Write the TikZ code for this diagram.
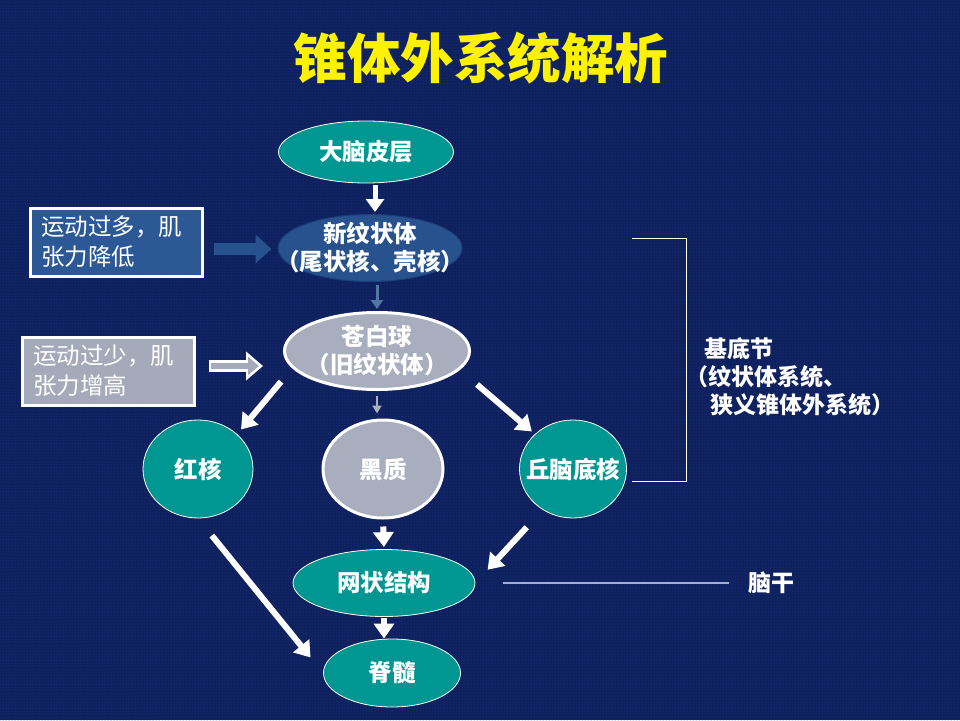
\documentclass[tikz,border=0pt]{standalone}
\usepackage{fontspec}
\setmainfont{Noto Sans CJK SC}
\definecolor{bgnavy}{RGB}{14, 32, 94}
\definecolor{bgdot}{RGB}{36, 62, 132}
\definecolor{nucteal}{RGB}{0, 150, 146}
\definecolor{palegray}{RGB}{168, 174, 190}
\definecolor{slateblue}{RGB}{40, 82, 142}
\definecolor{slateedge}{RGB}{30, 62, 120}
\definecolor{notegray}{RGB}{165, 170, 186}
\definecolor{noteblue}{RGB}{44, 88, 150}
\definecolor{stemgray}{RGB}{160, 175, 210}
\usetikzlibrary{shapes.geometric, arrows.meta, positioning, calc, patterns}

\begin{document}
\begin{tikzpicture}[x=1pt, y=-1pt,
  nuc/.style={ellipse, draw=white, line width=0.8pt, fill=nucteal, inner sep=0pt},
  graynuc/.style={ellipse, draw=white, line width=3pt, fill=palegray, inner sep=0pt},
  txt/.style={text=white, align=center, font=\fontsize{23.5}{28}\selectfont\bfseries},
  note/.style={draw=white, line width=3pt, text=white, align=left, text width=150pt, inner xsep=11pt, minimum height=68pt, font=\fontsize{23.5}{30}\selectfont},
  bigarrow/.style={white, line width=6pt, -{Triangle[width=20pt, length=15pt]}}
]
  \useasboundingbox (0,0) rectangle (960,720);
  \fill[bgnavy] (0,0) rectangle (960,720);
  \fill[pattern=dots, pattern color=bgdot] (0,0) rectangle (960,720);

  \node[text=yellow, font=\fontsize{53.5}{60}\selectfont\bfseries] (title) at (481,58) {锥体外系统解析};

  % nuclei
  \node[nuc, minimum width=175pt, minimum height=62pt, label={[txt]center:大脑皮层}] (cortex) at (366,152) {};
  \node[ellipse, draw=slateedge, line width=1pt, fill=slateblue, inner sep=0pt, minimum width=184pt, minimum height=67pt,
        label={[txt]center:新纹状体\\（尾状核、壳核）}] (neo) at (370,248) {};
  \node[graynuc, minimum width=185pt, minimum height=77pt, label={[txt]center:苍白球\\（旧纹状体）}] (pall) at (377,351) {};
  \node[nuc, minimum width=110pt, minimum height=98pt, label={[txt]center:红核}] (red) at (198,469) {};
  \node[graynuc, minimum width=120pt, minimum height=98pt, label={[txt]center:黑质}] (nigra) at (383,469) {};
  \node[nuc, minimum width=107pt, minimum height=98pt, label={[txt]center:丘脑底核}] (stn) at (573,469) {};
  \node[nuc, minimum width=182pt, minimum height=67pt, label={[txt]center:网状结构}] (ret) at (384,583) {};
  \node[nuc, minimum width=137pt, minimum height=68pt, label={[txt]center:脊髓}] (spine) at (392,673) {};

  % side notes
  \node[note, fill=noteblue] (more) at (116,242) {运动过多，肌\\张力降低};
  \node[note, fill=notegray] (less) at (108,371) {运动过少，肌\\张力增高};

  \draw[slateblue, line width=12pt, -{Triangle[width=28pt, length=16pt]}, shorten <=10pt, shorten >=6pt]
    ([yshift=-7pt]more.east) -- ([yshift=-7pt]more.east -| neo.west);
  \draw[white, line width=12pt, -{Triangle[width=28pt, length=17pt]}, shorten <=13pt, shorten >=20pt]
    ([yshift=5pt]less.east) -- ([yshift=5pt]less.east -| pall.west);
  \draw[notegray, line width=6pt, -{Triangle[width=18pt, length=11pt]}, shorten <=15pt, shorten >=24pt]
    ([yshift=5pt]less.east) -- ([yshift=5pt]less.east -| pall.west);

  % pathway
  \draw[white, line width=5pt, -{Triangle[width=18pt, length=13pt]}, shorten <=2pt, shorten >=2pt]
    ([xshift=9pt]cortex.south) -- ([xshift=9pt]cortex.south |- neo.north);
  \draw[slateblue!80!white, line width=3pt, -{Triangle[width=12pt, length=9pt]}, shorten <=3pt, shorten >=2pt]
    (pall.north |- neo.south) -- (pall.north);
  \draw[palegray, line width=2pt, -{Triangle[width=9pt, length=8pt]}, shorten <=5pt, shorten >=5pt]
    (pall.south) -- (pall.south |- nigra.north);
  \draw[bigarrow, shorten <=3pt, shorten >=6pt] (pall.south west -| pall.west) -- (red.north east);
  \draw[bigarrow, shorten <=8pt, shorten >=4pt] (pall.south east -| pall.east) -- (stn.north west);
  \draw[bigarrow, shorten <=7pt, shorten >=2pt] (nigra.south) -- (ret.north);
  \draw[bigarrow, shorten <=12pt, shorten >=18pt] (stn.south west |- stn.south) -- (ret.east);
  \draw[bigarrow, shorten <=22pt, shorten >=20pt] (red.south) -- (spine.west);
  \draw[bigarrow, shorten <=1pt, shorten >=0pt] (ret.south) -- (ret.south |- spine.north);

  % basal ganglia bracket and brainstem
  \coordinate (bgtop) at (632,238);
  \coordinate (bgbot) at (632,481);
  \draw[white, line width=0.8pt] (bgtop) -- ++(54,0) |- (bgbot);
  \node[anchor=west, text=white, align=left, font=\fontsize{23}{28}\selectfont\bfseries] (basal) at (682,377)
    {\hspace*{19pt}基底节\\（纹状体系统、\\\hspace*{25pt}狭义锥体外系统）};
  \node[text=white, font=\fontsize{23}{28}\selectfont\bfseries] (stem) at (771,583) {脑干};
  \draw[stemgray, line width=1.2pt, shorten <=28pt, shorten >=15pt] (ret.east) -- (stem.west);
\end{tikzpicture}
\end{document}
